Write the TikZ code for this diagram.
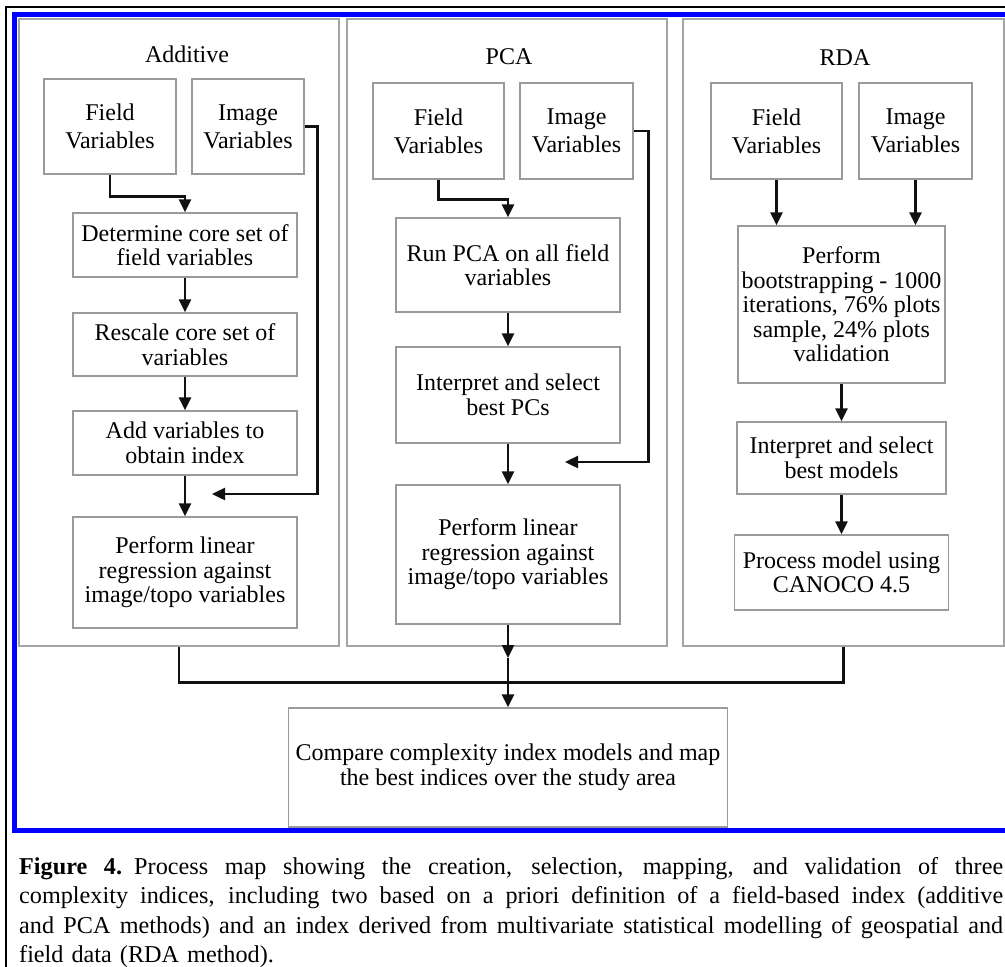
\documentclass[tikz,border=0pt]{standalone}
\usepackage{fontspec}
\setmainfont{Liberation Serif}
\usetikzlibrary{arrows.meta}
\definecolor{boxgray}{HTML}{9A9A9A}
\definecolor{panelgray}{HTML}{A4A4A4}
\definecolor{frameblue}{HTML}{0000FF}
\definecolor{linkblack}{HTML}{111111}
\newcommand{\capline}[1]{\leavevmode\hbox to 984pt{\spaceskip=0.25em plus 1fil\relax #1}}
\begin{document}
\begin{tikzpicture}[x=1pt,y=-1pt,
  box/.style={draw=boxgray, line width=1.3pt, align=center, inner sep=2pt,
    font=\fontsize{24}{24.5}\selectfont},
  varbox/.style={box, font=\fontsize{24}{28}\selectfont},
  panel/.style={draw=panelgray, line width=1.3pt, inner sep=0},
  ptitle/.style={inner sep=0, font=\fontsize{24}{28}\selectfont},
  conn/.style={draw=linkblack, line width=2.4pt},
  arr/.style={conn, -{Triangle[length=13pt,width=12pt]}}]
\useasboundingbox (0,0) rectangle (1005,967);
% frames
\draw[black, line width=1.5pt] (6,967) -- (6,7) -- (1010,7);
\draw[frameblue, line width=5pt] (1015,830) -| (14,14) -- (1015,14);
% panels
\node[panel, minimum width=320, minimum height=627] (aPanel) at (179,332.5) {};
\node[panel, minimum width=320, minimum height=627] (pPanel) at (507,332.5) {};
\node[panel, minimum width=321, minimum height=627] (rPanel) at (843.5,332.5) {};
\node[ptitle] (aT) at (187,54) {Additive};
\node[ptitle] (pT) at (509,57) {PCA};
\node[ptitle] (rT) at (845,58) {RDA};
% Additive
\node[varbox, minimum width=132, minimum height=95] (aF) at (110,126.5) {Field\\Variables};
\node[varbox, minimum width=112, minimum height=95] (aI) at (248,126.5) {Image\\Variables};
\node[box, minimum width=224, minimum height=64] (aD) at (185,245) {Determine core set of\\field variables};
\node[box, minimum width=224, minimum height=63] (aR) at (185,344.5) {Rescale core set of\\variables};
\node[box, minimum width=224, minimum height=64] (aA) at (185,443) {Add variables to\\obtain index};
\node[box, minimum width=224, minimum height=111] (aP) at (185,572.5) {Perform linear\\regression against\\image/topo variables};
\coordinate (aTip) at (212,494);
\draw[arr] (aF.south) -- ++(0,22) -| (aD.north);
\draw[arr] (aD.south) -- (aR.north);
\draw[arr] (aR.south) -- (aA.north);
\draw[arr] (aA.south) -- (aP.north);
\draw[arr] (aI.east) -- ++(13,0) |- (aTip);
% PCA
\node[varbox, minimum width=131, minimum height=96] (pF) at (438.5,131) {Field\\Variables};
\node[varbox, minimum width=113, minimum height=96] (pI) at (576.5,131) {Image\\Variables};
\node[box, minimum width=224, minimum height=94] (pR) at (508,265) {Run PCA on all field\\variables};
\node[box, minimum width=224, minimum height=96] (pS) at (508,395) {Interpret and select\\best PCs};
\node[box, minimum width=224, minimum height=139] (pP) at (508,554.5) {Perform linear\\regression against\\image/topo variables};
\coordinate (pTip) at (565,462);
\draw[arr] (pF.south) -- ++(0,20) -| (pR.north);
\draw[arr] (pR.south) -- (pS.north);
\draw[arr] (pS.south) -- (pP.north);
\draw[arr] (pI.east) -- ++(15,0) |- (pTip);
% RDA
\node[varbox, minimum width=131, minimum height=96] (rF) at (776.5,131) {Field\\Variables};
\node[varbox, minimum width=113, minimum height=96] (rI) at (915.5,131) {Image\\Variables};
\node[box, minimum width=207, minimum height=157] (rB) at (841.5,304.5) {Perform\\bootstrapping - 1000\\iterations, 76\% plots\\sample, 24\% plots\\validation};
\node[box, minimum width=209, minimum height=72] (rS) at (841.5,458) {Interpret and select\\best models};
\node[box, minimum width=214, minimum height=75] (rP) at (841.5,572.5) {Process model using\\CANOCO 4.5};
\draw[arr] (rF.south) -- (rF.south |- rB.north);
\draw[arr] (rI.south) -- (rI.south |- rB.north);
\draw[arr] (rB.south) -- (rS.north);
\draw[arr] (rS.south) -- (rP.north);
% compare
\node[box, minimum width=439, minimum height=119] (cmp) at (508,767.5) {Compare complexity index models and map\\the best indices over the study area};
\coordinate (pMid) at (508,658);
\draw[conn] (aPanel.south) -- ++(0,36) -| (rPanel.south);
\draw[arr] (pP.south) -- (pMid);
\draw[arr] (pMid) -- (cmp.north);
% caption
\node[anchor=north west, inner sep=0, text width=984pt, align=left,
  font=\fontsize{24.2}{29.5}\selectfont] (cap) at (19,857) {\noindent
\capline{\textbf{Figure 4.} Process map showing the creation, selection, mapping, and validation of three}\\
\capline{complexity indices, including two based on a priori definition of a field-based index (additive}\\
\capline{and PCA methods) and an index derived from multivariate statistical modelling of geospatial and}\\
field data (RDA method).};
\end{tikzpicture}
\end{document}
